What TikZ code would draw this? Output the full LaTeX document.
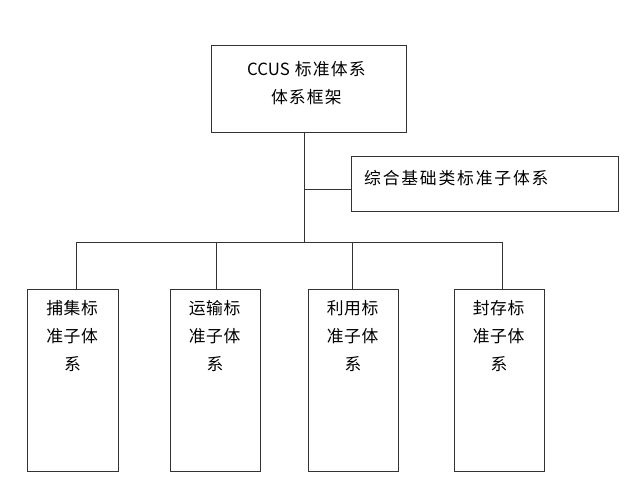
\documentclass[tikz,border=0pt]{standalone}
\usepackage{fontspec}
\setmainfont{Noto Sans CJK SC}
\newcommand\spaced[2]{\def\spgap{#1}\spacedi#2\relax}
\def\spacedi#1{\ifx#1\relax\else#1\kern\spgap\expandafter\spacedi\fi}
\begin{document}
\begin{tikzpicture}[x=1pt,y=-1pt,
  box/.style={draw=black!80,line width=1pt,inner sep=0pt},
  link/.style={draw=black!80,line width=1pt},
  txt/.style={inner sep=0pt,font=\fontsize{16.8}{28}\selectfont,align=center}]
\useasboundingbox[fill=white] (0,0) rectangle (640,495);
% boxes
\node[box,minimum width=195pt,minimum height=86pt] (top) at (308.5,89) {};
\node[box,minimum width=267pt,minimum height=55pt] (side) at (484.5,184) {};
\node[box,minimum width=91pt,minimum height=182pt] (a) at (72.5,380) {};
\node[box,minimum width=90pt,minimum height=182pt] (b) at (215,380) {};
\node[box,minimum width=90pt,minimum height=182pt] (c) at (353,380) {};
\node[box,minimum width=90pt,minimum height=182pt] (d) at (499,380) {};
% texts
\node[txt] (toptxt) at (307,83) {CCUS\kern5pt\spaced{1.2pt}{标准体系}\\\spaced{1.2pt}{体系框架}};
\node[txt,anchor=west] (sidetxt) at (364,178) {\spaced{1.8pt}{综合基础类标准子体系}};
\node[txt,anchor=north] (atxt) at (72.5,300) {\spaced{0.7pt}{捕集标}\\\spaced{0.7pt}{准子体}\\系};
\node[txt,anchor=north] (btxt) at (215,300) {\spaced{0.7pt}{运输标}\\\spaced{0.7pt}{准子体}\\系};
\node[txt,anchor=north] (ctxt) at (353,300) {\spaced{0.7pt}{利用标}\\\spaced{0.7pt}{准子体}\\系};
\node[txt,anchor=north] (dtxt) at (499,300) {\spaced{0.7pt}{封存标}\\\spaced{0.7pt}{准子体}\\系};
% connectors
\coordinate (j) at (304,242);
\coordinate (br) at (304,189);
\coordinate (busL) at (76,242);
\coordinate (busB) at (216,242);
\coordinate (busC) at (352,242);
\coordinate (busR) at (502,242);
\draw[link] (top.south -| j) -- (j);
\draw[link] (br) -- (br -| side.west);
\draw[link] (busL) -- (busR);
\draw[link] (busL) -- (busL |- a.north);
\draw[link] (busB) -- (busB |- b.north);
\draw[link] (busC) -- (busC |- c.north);
\draw[link] (busR) -- (busR |- d.north);
\end{tikzpicture}
\end{document}
